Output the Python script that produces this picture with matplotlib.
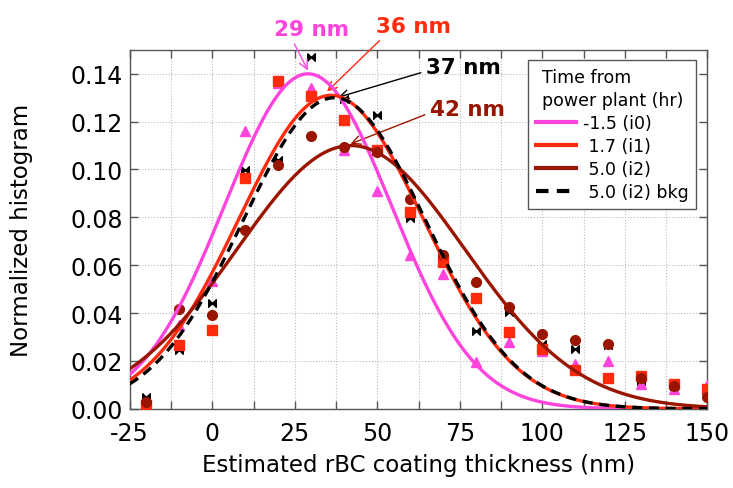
import numpy as np
import matplotlib
matplotlib.use("Agg")
import matplotlib.pyplot as plt
from matplotlib.ticker import MultipleLocator

plt.rcParams['font.family'] = ['DejaVu Sans']
plt.rcParams['axes.unicode_minus'] = False

# bin centres (nm)
thickness = [-20, -10, 0, 10, 20, 30, 40, 50, 60, 70, 80, 90, 100, 110, 120, 130, 140, 150]

# normalized histograms
hist_i0 = [0.000, 0.035, 0.0536, 0.116, 0.136, 0.134, 0.108, 0.0912, 0.0644, 0.0564, 0.0195,
           0.0279, 0.024, 0.0188, 0.0198, 0.0104, 0.0081, 0.0100]
hist_i1 = [0.0014, 0.0265, 0.033, 0.0964, 0.137, 0.1306, 0.1205, 0.108, 0.0822, 0.0613, 0.0464,
           0.0322, 0.0248, 0.0164, 0.013, 0.0139, 0.0104, 0.0081]
hist_i2 = [0.003, 0.0415, 0.039, 0.0748, 0.1017, 0.1138, 0.1093, 0.1075, 0.0875, 0.0644, 0.0529,
           0.0426, 0.0313, 0.0288, 0.0269, 0.013, 0.0097, 0.0049]
hist_bkg = [0.005, 0.0244, 0.0443, 0.0996, 0.1038, 0.147, 0.1295, 0.1226, 0.0798, 0.0627, 0.0323,
            0.0404, 0.0272, 0.025, 0.0268, 0.0118, 0.0095, 0.0063]

# gaussian fits: (amplitude, centre, width)
fit_i0 = (0.140, 29, 25.3)
fit_i1 = (0.131, 36, 27.9)
fit_i2 = (0.110, 42, 34.5)
fit_bkg = (0.130, 37, 27.6)

magenta = '#FF44DD'
red = '#FF2B0F'
darkred = '#9A1500'

def gauss(x, a, x0, s):
    return a * np.exp(-(x - x0) ** 2 / (2 * s ** 2))

xs = np.linspace(-25, 150, 400)

fig, ax = plt.subplots(figsize=(7.33, 4.89), dpi=100)
fig.subplots_adjust(left=0.177, right=0.965, top=0.896, bottom=0.162)

bowtie = [(-1, 1), (-1, -1), (1, 1), (1, -1), (-1, 1)]
ax.plot(thickness, hist_bkg, ls='none', marker=bowtie, ms=5.5, color='black', zorder=3)
ax.plot(thickness, hist_i0, ls='none', marker='^', ms=7, color=magenta, zorder=3)
ax.plot(thickness, hist_i1, ls='none', marker='s', ms=6.5, color=red, zorder=3)
ax.plot(thickness, hist_i2, ls='none', marker='o', ms=7, color=darkred, zorder=3)

ax.plot(xs, gauss(xs, *fit_i0), color=magenta, lw=2.4, label='-1.5 (i0)', zorder=4)
ax.plot(xs, gauss(xs, *fit_i1), color=red, lw=2.4, label=' 1.7 (i1)', zorder=4)
ax.plot(xs, gauss(xs, *fit_i2), color=darkred, lw=2.4, label=' 5.0 (i2)', zorder=4)
ax.plot(xs, gauss(xs, *fit_bkg), color='black', lw=2.4, ls=(0, (3, 2)),
        label=' 5.0 (i2) bkg', zorder=5)

ax.set_xlim(-25, 150)
ax.set_ylim(0, 0.15)
ax.xaxis.set_major_locator(MultipleLocator(25))
ax.xaxis.set_minor_locator(MultipleLocator(12.5))
ax.yaxis.set_major_locator(MultipleLocator(0.02))
ax.yaxis.set_major_formatter(plt.FormatStrFormatter('%.2f'))
ax.tick_params(which='both', direction='in', top=True, right=True, length=6,
               width=1, color='#555555', labelsize=17)
ax.tick_params(axis='x', pad=9)
ax.tick_params(axis='y', pad=5)
ax.grid(True, which='both', axis='x', color='#bbbbbb', ls=':', lw=0.8)
ax.grid(True, which='major', axis='y', color='#bbbbbb', ls=':', lw=0.8)
for sp in ax.spines.values():
    sp.set_color('#555555')
    sp.set_linewidth(1)

ax.set_xlabel('Estimated rBC coating thickness (nm)', fontsize=16.5, va='center')
ax.xaxis.set_label_coords(0.5, -0.155)
ax.set_ylabel('Normalized histogram', fontsize=16.5, va='center')
ax.yaxis.set_label_coords(-0.187, 0.5)

# peak annotations
def arrow(c, rel):
    return dict(arrowstyle='->', lw=1, color=c, relpos=rel, shrinkA=2, shrinkB=0)

ax.annotate('29 nm', xy=(29, 0.1414), xytext=(30, 0.1588), color=magenta, fontsize=15.5,
            fontweight='bold', ha='center', va='center', annotation_clip=False,
            arrowprops=arrow(magenta, (0.24, 0)))
ax.annotate('36 nm', xy=(34.8, 0.1326), xytext=(61, 0.160), color=red, fontsize=15.5,
            fontweight='bold', ha='center', va='center', annotation_clip=False,
            arrowprops=arrow(red, (0.11, 0)))
ax.annotate('37 nm', xy=(38.2, 0.1302), xytext=(76.2, 0.1428), color='black', fontsize=15.5,
            fontweight='bold', ha='center', va='center',
            arrowprops=arrow('black', (0, 0.3)))
ax.annotate('42 nm', xy=(41.9, 0.1107), xytext=(77.4, 0.1254), color=darkred, fontsize=15.5,
            fontweight='bold', ha='center', va='center',
            arrowprops=arrow(darkred, (0, 0.3)))

leg = ax.legend(loc='upper right', bbox_to_anchor=(0.981, 0.972), borderaxespad=0,
                fontsize=12.5, title='Time from\npower plant (hr)', title_fontsize=12.5,
                fancybox=False, framealpha=1, edgecolor='#555555', handlelength=2.3,
                borderpad=0.45, labelspacing=0.3, handletextpad=0.4)
leg.get_title().set_linespacing(1.35)
leg.get_frame().set_linewidth(1)
for line in leg.get_lines():
    line.set_linewidth(3)

fig.savefig('out.png', dpi=100)
